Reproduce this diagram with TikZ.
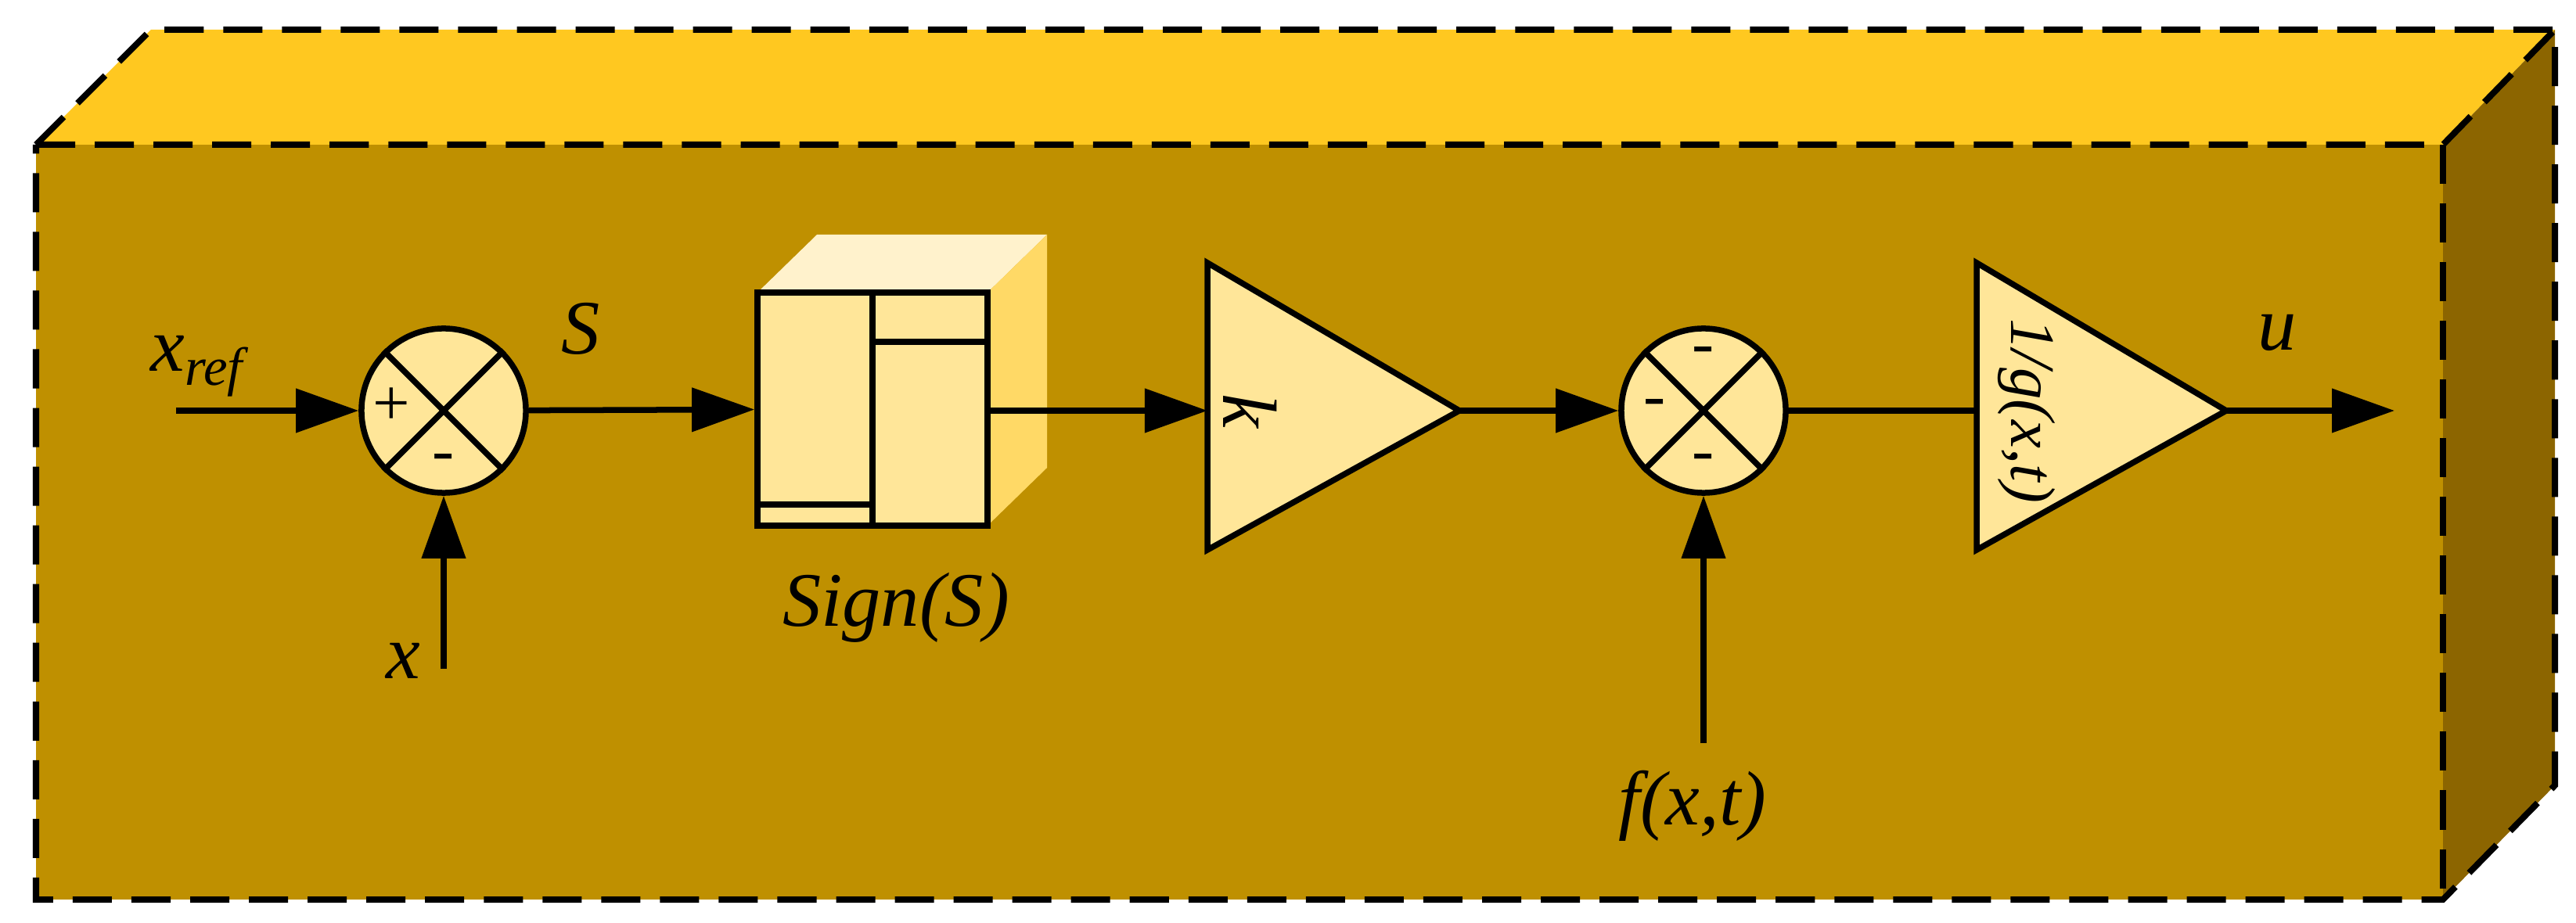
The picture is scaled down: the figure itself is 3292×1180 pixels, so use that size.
\documentclass[tikz,border=0pt]{standalone}
\usepackage{fontspec}
\setmainfont{Liberation Serif}
\usetikzlibrary{arrows.meta}
\definecolor{topc}{HTML}{FFC820}
\definecolor{frontc}{HTML}{BF9000}
\definecolor{sidec}{HTML}{8C6500}
\definecolor{blk}{HTML}{FFE699}
\definecolor{blkt}{HTML}{FFF2CC}
\definecolor{blks}{HTML}{FFD966}
\begin{document}
\begin{tikzpicture}[x=0.01cm,y=-0.01cm,
  ln/.style={line width=0.075cm,black},
  arr/.style={ln,-{Triangle[length=0.8cm,width=0.55cm]}},
  box/.style={line width=0.08cm,dash pattern=on 0.5cm off 0.25cm},
  sum/.style={circle,draw,ln,fill=blk,minimum size=2.1cm,inner sep=0pt},
  lab/.style={font=\fontsize{28}{32}\selectfont\itshape},
  sgn/.style={font=\fontsize{24}{28}\selectfont}]
\useasboundingbox (0,0) rectangle (3292,1180);
% 3D box
\fill[topc] (46,185) -- (193,38) -- (3265,38) -- (3122,185) -- cycle;
\fill[sidec] (3122,185) -- (3265,38) -- (3265,1004) -- (3122,1150) -- cycle;
\fill[frontc] (46,185) rectangle (3122,1150);
\draw[box] (46,185) -- (193,38) -- (3265,38) -- (3265,1004) -- (3122,1150) -- (46,1150) -- cycle;
\draw[box] (46,185) -- (3122,185) -- (3265,38);
\draw[box] (3122,185) -- (3122,1150);
% sum 1
\node[sum] (s1) at (567,525) {};
\draw[ln] (s1.north west) -- (s1.south east) (s1.north east) -- (s1.south west);
\node[sgn] at (500,520) {+};
\node[sgn] at (567,592) {-};
\coordinate (xin) at (225,525);
\coordinate (xb) at (567,855);
\draw[arr] (xin) -- (s1);
\draw[arr] (xb) -- (s1);
\node[lab,anchor=south west] (xr) at (180,520) {x\textsubscript{ref}};
\node[lab] (xl) at (515,845) {x};
\node[lab] (sl) at (742,420) {S};
% sign block
\fill[blkt] (968,374) -- (1044,300) -- (1338,300) -- (1262,374) -- cycle;
\fill[blks] (1262,374) -- (1338,300) -- (1338,598) -- (1262,672) -- cycle;
\node[draw,ln,fill=blk,minimum width=2.94cm,minimum height=2.98cm,inner sep=0pt] (sg) at (1115,523) {};
\draw[ln] (1115,374) -- (1115,672) (1115,437) -- (1262,437) (968,645) -- (1115,645);
\node[lab] (sgl) at (1145,777) {Sign(S)};
\draw[arr] (s1) -- (sg);
% gain k
\coordinate (k1) at (1543,336);
\coordinate (k2) at (1543,703);
\coordinate (k3) at (1865,525);
\filldraw[ln,fill=blk,line join=miter] (k1) -- (k3) -- (k2) -- cycle;
\node[lab,rotate=-90] (kl) at (1598,525) {k};
\draw[arr] (1262,525) -- (k1 |- k3);
% sum 2
\node[sum] (s2) at (2177,525) {};
\draw[ln] (s2.north west) -- (s2.south east) (s2.north east) -- (s2.south west);
\node[sgn] at (2177,455) {-};
\node[sgn] at (2115,522) {-};
\node[sgn] at (2177,592) {-};
\draw[arr] (k3) -- (s2);
\coordinate (fb) at (2177,950);
\draw[arr] (fb) -- (s2);
\node[lab] (fl) at (2163,1030) {f(x,t)};
% gain 1/g
\coordinate (g1) at (2526,336);
\coordinate (g2) at (2526,703);
\coordinate (g3) at (2845,525);
\filldraw[ln,fill=blk,line join=miter] (g1) -- (g3) -- (g2) -- cycle;
\node[lab,rotate=-90,font=\fontsize{23}{26}\selectfont\itshape] (gl) at (2590,525) {1/g(x,t)};
\draw[ln] (s2) -- (g1 |- g3);
\coordinate (uo) at (3060,525);
\draw[arr] (g3) -- (uo);
\node[lab] (ul) at (2910,425) {u};
\end{tikzpicture}
\end{document}
